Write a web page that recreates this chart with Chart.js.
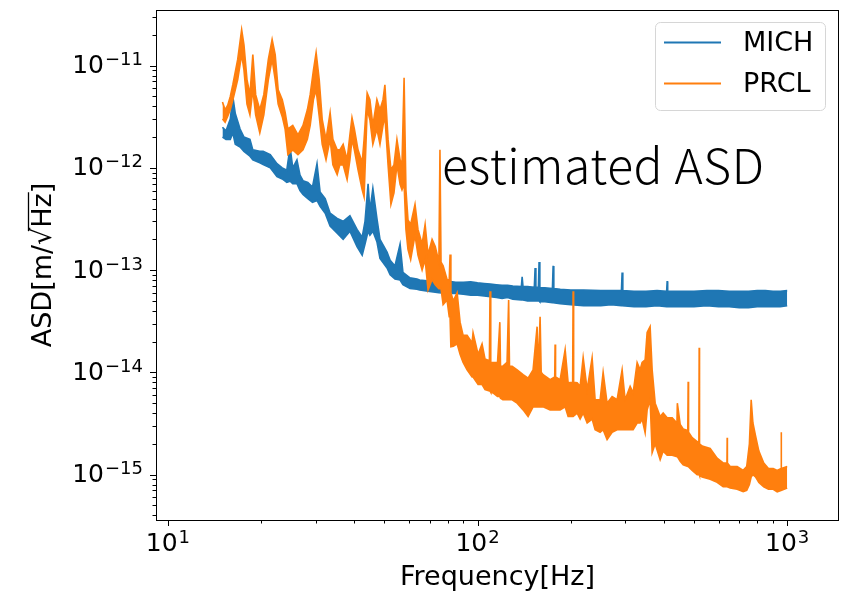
<!DOCTYPE html>
<html>
<head>
<meta charset="utf-8">
<script src="https://cdn.jsdelivr.net/npm/chart.js@4.4.1/dist/chart.umd.min.js"></script>
<style>
  html, body { margin: 0; padding: 0; background: #fff; }
  #wrap { width: 846px; height: 591px; }
</style>
</head>
<body>
<div id="wrap"><canvas id="asd" width="846" height="591"></canvas></div>
<script>
// axis decades (major ticks) and visible range
const xTicks = [10, 100, 1000];
const yTicks = [1e-15, 1e-14, 1e-13, 1e-12, 1e-11];
const xRange = [9.15, 1470];
const yRange = [3.6e-16, 3.5e-11];

// MICH: upper and lower edge of the noisy trace
const michFreq = [15.0, 15.4, 15.9, 16.2, 16.5, 17.1, 17.6, 18.4, 18.8, 19.8, 20.3, 21.4, 22.5, 23.4, 24.2, 24.8, 25.3, 26.1, 26.7, 27.3,
  28.3, 29.3, 30.3, 31.0, 32.2, 33.4, 35.2, 36.8, 38.7, 40.8, 42.4, 43.3, 44.3, 44.9, 45.9, 47.3, 48.4, 51.0, 52.2, 54.1,
  56.2, 57.4, 60.5, 63.7, 65, 70, 75, 80, 85, 90, 95, 100, 105, 110, 115, 120, 125, 130, 138.5, 139.3,
  140.2, 145, 152.5, 153.4, 154.3, 157.2, 158.0, 158.9, 165, 174.5, 175.4, 176.3, 185, 200, 220, 250, 270, 291.5, 293.0, 294.5,
  320, 350, 380, 408, 409.6, 411.2, 450, 500, 550, 600, 650, 700, 750, 800, 850, 900, 950, 1000];
const michHigh = [2.5e-12, 2.3e-12, 3.0e-12, 5.0e-12, 3.4e-12, 2.4e-12, 2.0e-12, 1.9e-12, 1.5e-12, 1.45e-12, 1.45e-12, 1.35e-12, 1.1e-12, 1.0e-12, 9.5e-13, 1.6e-12, 1.0e-12, 1.2e-12, 8.5e-13, 7.5e-13,
  7.2e-13, 6.5e-13, 1.1e-12, 5.8e-13, 5.0e-13, 3.6e-13, 3.2e-13, 3.0e-13, 3.4e-13, 2.5e-13, 2.1e-13, 3.0e-13, 7.0e-13, 3.8e-13, 6.3e-13, 3.2e-13, 2.0e-13, 1.5e-13, 1.25e-13, 1.1e-13,
  1.8e-13, 9.5e-14, 8.4e-14, 8.2e-14, 8.0e-14, 7.8e-14, 7.9e-14, 7.8e-14, 7.6e-14, 7.6e-14, 7.7e-14, 7.5e-14, 7.4e-14, 7.3e-14, 7.2e-14, 7.1e-14, 7.1e-14, 7.0e-14, 6.9e-14, 8.6e-14,
  6.9e-14, 6.9e-14, 6.8e-14, 1.05e-13, 6.8e-14, 6.8e-14, 1.2e-13, 6.7e-14, 6.7e-14, 6.6e-14, 1.1e-13, 6.6e-14, 6.5e-14, 6.4e-14, 6.4e-14, 6.3e-14, 6.3e-14, 6.3e-14, 9.5e-14, 6.3e-14,
  6.2e-14, 6.2e-14, 6.3e-14, 6.2e-14, 7.8e-14, 6.2e-14, 6.2e-14, 6.2e-14, 6.3e-14, 6.3e-14, 6.2e-14, 6.2e-14, 6.2e-14, 6.3e-14, 6.3e-14, 6.2e-14, 6.2e-14, 6.3e-14];
const michLow = [2.0e-12, 1.9e-12, 1.9e-12, 2.2e-12, 1.7e-12, 1.6e-12, 1.45e-12, 1.3e-12, 1.2e-12, 1.12e-12, 1.08e-12, 1.0e-12, 8.2e-13, 7.8e-13, 7.2e-13, 7.4e-13, 7.0e-13, 7.0e-13, 6.0e-13, 5.5e-13,
  5.0e-13, 4.6e-13, 4.8e-13, 4.2e-13, 3.6e-13, 2.7e-13, 2.3e-13, 2.0e-13, 2.4e-13, 1.7e-13, 1.4e-13, 1.8e-13, 2.4e-13, 2.2e-13, 2.4e-13, 1.9e-13, 1.3e-13, 1.05e-13, 9.0e-14, 8.2e-14,
  8.0e-14, 7.2e-14, 6.6e-14, 6.5e-14, 6.4e-14, 6.2e-14, 6.0e-14, 5.9e-14, 5.9e-14, 5.8e-14, 5.7e-14, 5.7e-14, 5.6e-14, 5.5e-14, 5.4e-14, 5.3e-14, 5.4e-14, 5.2e-14, 5.1e-14, 5.1e-14,
  5.1e-14, 5.0e-14, 5.0e-14, 5.0e-14, 5.0e-14, 5.0e-14, 5.0e-14, 4.9e-14, 4.9e-14, 4.8e-14, 4.8e-14, 4.8e-14, 4.7e-14, 4.6e-14, 4.5e-14, 4.5e-14, 4.6e-14, 4.5e-14, 4.5e-14, 4.5e-14,
  4.4e-14, 4.4e-14, 4.5e-14, 4.4e-14, 4.4e-14, 4.4e-14, 4.4e-14, 4.4e-14, 4.5e-14, 4.4e-14, 4.4e-14, 4.3e-14, 4.3e-14, 4.4e-14, 4.4e-14, 4.4e-14, 4.4e-14, 4.5e-14];

// PRCL: upper and lower edge of the noisy trace
const prclFreq = [15.0, 15.3, 15.6, 15.9, 16.2, 16.5, 16.8, 17.3, 17.6, 18.0, 18.4, 18.8, 19.2, 19.8, 20.4, 21.1, 21.7, 22.2, 22.7, 23.4,
  23.9, 24.4, 25.3, 26.3, 27.3, 28.2, 28.8, 29.5, 30.1, 30.8, 31.5, 32.4, 33.4, 34.1, 35.2, 35.9, 36.8, 37.9, 38.7, 39.3,
  40.0, 41.1, 42.4, 43.0, 44.0, 44.9, 45.9, 47.3, 48.4, 49.5, 50.2, 51.4, 52.5, 53.7, 54.9, 56.2, 57.0, 57.9, 58.7, 59.6,
  60.8, 62.8, 64.2, 66.2, 67.7, 69.2, 71.3, 73.0, 75.0, 75.6, 76.2, 77.4, 79.7, 81.0, 81.5, 82.0, 83.5, 85.9, 87.8, 89.8,
  92.5, 96.0, 96.7, 100.4, 103.4, 105.7, 109.2, 109.7, 110.3, 112.2, 116.0, 118.0, 118.6, 120.7, 124.5, 126.0, 126.8, 129.3, 134.2, 140.3,
  145.6, 151.1, 155.7, 157.0, 159.2, 160.5, 162.8, 171.5, 177.5, 178.0, 178.6, 184.8, 191.8, 196.1, 202.8, 203.5, 204.3, 209.7, 214.4, 219.3,
  225.9, 234.4, 239.7, 248.8, 254.4, 262.0, 272.0, 282.3, 293.0, 299.6, 311.0, 318.0, 327.6, 335.0, 340.0, 347.7, 352.9, 360.8, 366.3, 374.6,
  388.8, 397.6, 409.6, 425.2, 440.5, 441.8, 451.2, 461.4, 477.5, 478.8, 480.2, 493.3, 512.0, 518.5, 519.7, 521.0, 531.4, 563.9, 593.9, 621.1,
  639.0, 640.0, 641.0, 654.4, 689.4, 720.9, 740, 755, 765, 775, 790, 810, 840, 870, 901.3, 928.5, 955, 956.4, 958, 1000];
const prclHigh = [4.4e-12, 3.7e-12, 4.1e-12, 5.0e-12, 6.5e-12, 8.7e-12, 1.15e-11, 2.25e-11, 1.6e-11, 7.3e-12, 5.2e-12, 1.28e-11, 5.2e-12, 3.7e-12, 5.2e-12, 1.15e-11, 1.8e-11, 1.28e-11, 5.8e-12, 4.65e-12,
  3.5e-12, 2.4e-12, 2.6e-12, 2.1e-12, 2.6e-12, 3.7e-12, 5.2e-12, 9.0e-12, 1.34e-11, 7.3e-12, 2.96e-12, 1.9e-12, 3.47e-12, 1.9e-12, 1.5e-12, 1.5e-12, 1.7e-12, 1.2e-12, 2.1e-12, 3.1e-12,
  2.4e-12, 1.5e-12, 1.13e-12, 1.9e-12, 5.4e-12, 4.65e-12, 2.6e-12, 4.65e-12, 3.7e-12, 4.65e-12, 6.5e-12, 1.9e-12, 9.6e-13, 1.07e-12, 1.9e-12, 1.2e-12, 1.07e-12, 7.6e-12, 6.1e-13, 3.1e-13,
  2.8e-13, 4.4e-13, 2.5e-13, 1.8e-13, 2.8e-13, 1.42e-13, 2.0e-13, 1.7e-13, 1.2e-13, 1.5e-12, 1.2e-13, 1.1e-13, 8.1e-14, 8.0e-14, 1.42e-13, 6.0e-14, 5.0e-14, 6.0e-14, 3.1e-14, 2.3e-14,
  2.3e-14, 1.95e-14, 2.45e-14, 1.5e-14, 1.9e-14, 1.35e-14, 1.3e-14, 6.2e-14, 1.25e-14, 1.25e-14, 1.25e-14, 3.1e-14, 1.15e-14, 1.15e-14, 1.25e-14, 5.1e-14, 1.15e-14, 1.15e-14, 1.06e-14, 9.5e-15,
  8.8e-15, 1.06e-14, 2.8e-14, 1.0e-14, 3.5e-14, 1.0e-14, 9.5e-15, 8.5e-15, 9.0e-15, 1.87e-14, 9.0e-15, 8.5e-15, 1.67e-14, 7.9e-15, 8.0e-15, 6.2e-14, 8.0e-15, 7.9e-15, 7.3e-15, 1.4e-14,
  6.8e-15, 1.39e-14, 5.4e-15, 5.4e-15, 1.0e-14, 5.0e-15, 5.8e-15, 5.4e-15, 1.06e-14, 5.4e-15, 7.3e-15, 6.3e-15, 1.25e-14, 1.06e-14, 1.25e-14, 1.33e-14, 2.45e-14, 2.8e-14, 1.06e-14, 5.0e-15,
  3.7e-15, 4.0e-15, 3.6e-15, 3.6e-15, 3.2e-15, 5.0e-15, 3.1e-15, 2.8e-15, 2.7e-15, 8.1e-15, 2.6e-15, 2.3e-15, 2.1e-15, 2.1e-15, 1.74e-14, 2.0e-15, 1.9e-15, 1.8e-15, 1.45e-15, 1.3e-15,
  1.3e-15, 2.3e-15, 1.3e-15, 1.2e-15, 1.2e-15, 1.1e-15, 1.2e-15, 2.0e-15, 5.4e-15, 3.2e-15, 2.4e-15, 1.7e-15, 1.3e-15, 1.15e-15, 1.15e-15, 1.1e-15, 1.15e-15, 2.6e-15, 1.15e-15, 1.2e-15];
const prclLow = [3.0e-12, 2.8e-12, 3.2e-12, 3.7e-12, 4.6e-12, 5.8e-12, 7.3e-12, 1.28e-11, 9.1e-12, 4.2e-12, 3.3e-12, 5.8e-12, 3.3e-12, 2.2e-12, 3.3e-12, 7.3e-12, 1.15e-11, 7.3e-12, 4.2e-12, 3.17e-12,
  2.4e-12, 1.35e-12, 1.5e-12, 1.35e-12, 1.5e-12, 1.9e-12, 2.6e-12, 4.65e-12, 5.8e-12, 3.2e-12, 1.7e-12, 1.2e-12, 1.9e-12, 1.07e-12, 8.6e-13, 1.07e-12, 1.07e-12, 7.7e-13, 1.2e-12, 1.9e-12,
  1.5e-12, 9.6e-13, 6.1e-13, 5.2e-13, 3.7e-12, 2.96e-12, 1.7e-12, 2.4e-12, 1.7e-12, 2.6e-12, 3.2e-12, 1.07e-12, 4.4e-13, 5.7e-13, 1.07e-12, 6.9e-13, 6.1e-13, 7.0e-13, 2.5e-13, 1.6e-13,
  1.27e-13, 2.2e-13, 1.4e-13, 1.0e-13, 1.27e-13, 6.4e-14, 8.1e-14, 7.2e-14, 6.6e-14, 6.6e-14, 6.6e-14, 4.6e-14, 5.1e-14, 3.5e-14, 3.5e-14, 1.78e-14, 1.8e-14, 1.9e-14, 1.5e-14, 1.25e-14,
  1.06e-14, 9.0e-15, 9.0e-15, 7.6e-15, 7.6e-15, 6.8e-15, 6.6e-15, 6.6e-15, 6.4e-15, 6.3e-15, 5.8e-15, 5.8e-15, 5.6e-15, 5.4e-15, 5.4e-15, 5.4e-15, 5.4e-15, 5.4e-15, 5.0e-15, 4.3e-15,
  3.7e-15, 4.6e-15, 4.6e-15, 4.6e-15, 4.6e-15, 4.6e-15, 4.6e-15, 4.3e-15, 4.3e-15, 4.3e-15, 4.3e-15, 4.3e-15, 4.6e-15, 3.7e-15, 3.7e-15, 3.7e-15, 3.7e-15, 4.0e-15, 3.5e-15, 4.0e-15,
  3.2e-15, 3.5e-15, 2.75e-15, 2.6e-15, 2.75e-15, 2.2e-15, 2.6e-15, 2.75e-15, 2.75e-15, 2.75e-15, 2.75e-15, 2.75e-15, 3.2e-15, 3.2e-15, 3.5e-15, 2.57e-15, 4.3e-15, 5.4e-15, 1.64e-15, 2.0e-15,
  1.4e-15, 1.7e-15, 1.55e-15, 1.55e-15, 1.5e-15, 1.5e-15, 1.35e-15, 1.25e-15, 1.2e-15, 1.2e-15, 1.2e-15, 1.1e-15, 1.0e-15, 1.0e-15, 1.0e-15, 9.8e-16, 9.5e-16, 9.0e-16, 8.4e-16, 7.6e-16,
  7.6e-16, 7.6e-16, 7.6e-16, 7.4e-16, 7.2e-16, 6.8e-16, 7.0e-16, 8.0e-16, 9.5e-16, 1.0e-15, 9.5e-16, 8.4e-16, 7.6e-16, 7.2e-16, 7.2e-16, 6.8e-16, 7.0e-16, 7.0e-16, 7.0e-16, 7.4e-16];

const seriesNames = ['MICH', 'PRCL'];
const seriesColors = ['#1f77b4', '#ff7f0e'];
const noteText = 'estimated ASD';

function points(freq, vals) {
  return freq.map((f, i) => ({x: f, y: vals[i]}));
}

function decadeTicks(decades, scale) {
  const out = [];
  const list = [decades[0] / 10].concat(decades);
  list.forEach(d => {
    for (let m = 1; m < 10; m++) {
      const v = d * m;
      if (v >= scale.min && v <= scale.max) out.push({value: v, major: m === 1});
    }
  });
  scale.ticks = out;
}

function makeBand(name, color, freq, hi, lo, order) {
  return [
    {label: name, data: points(freq, hi), borderColor: color, backgroundColor: color,
     borderWidth: 1.6, pointRadius: 0, fill: false, order: order},
    {label: name + ' low', data: points(freq, lo), borderColor: color, backgroundColor: color,
     borderWidth: 1.6, pointRadius: 0, fill: '-1', order: order}
  ];
}

// "10" with a raised exponent, like matplotlib's log tick labels
function drawPower(ctx, v, x, base, align) {
  const exp = String(Math.round(Math.log10(v))).replace('-', '\u2212');
  ctx.font = '25px "DejaVu Sans"';
  const wb = ctx.measureText('10').width;
  ctx.font = '18px "DejaVu Sans"';
  const we = ctx.measureText(exp).width;
  const left = align === 'right' ? x - wb - we - 1 : x - (wb + we + 1) / 2;
  ctx.textAlign = 'left';
  ctx.textBaseline = 'alphabetic';
  ctx.fillStyle = '#000';
  ctx.font = '25px "DejaVu Sans"';
  ctx.fillText('10', left, base);
  ctx.font = '18px "DejaVu Sans"';
  ctx.fillText(exp, left + wb + 1, base - 8);
}

// frame, tick marks and labels, legend, sqrt overline and the text note
const decorations = {
  id: 'decorations',
  afterDraw(chart) {
    const {ctx, chartArea: a, scales: {x, y}} = chart;
    ctx.save();
    ctx.strokeStyle = '#000';
    ctx.lineWidth = 1;
    ctx.strokeRect(a.left + 0.5, a.top + 0.5, a.right - a.left - 1, a.bottom - a.top);

    ctx.beginPath();
    x.ticks.forEach(t => {
      const px = Math.round(x.getPixelForValue(t.value)) + 0.5;
      ctx.moveTo(px, a.bottom);
      ctx.lineTo(px, a.bottom + (t.major ? 6 : 3.5));
    });
    y.ticks.forEach(t => {
      const py = Math.round(y.getPixelForValue(t.value)) + 0.5;
      ctx.moveTo(a.left, py);
      ctx.lineTo(a.left - (t.major ? 6 : 3.5), py);
    });
    ctx.stroke();

    x.ticks.filter(t => t.major).forEach(t => {
      drawPower(ctx, t.value, x.getPixelForValue(t.value), a.bottom + 31, 'center');
    });
    y.ticks.filter(t => t.major).forEach(t => {
      drawPower(ctx, t.value, a.left - 13, y.getPixelForValue(t.value) + 7.5, 'right');
    });

    // overline of the square root in the y title
    const title = y.options.title;
    ctx.font = title.font.size + 'px "DejaVu Sans"';
    const full = ctx.measureText(title.text).width;
    const pre = ctx.measureText('ASD[m/').width;
    const root = ctx.measureText('\u221A').width;
    const hz = ctx.measureText('Hz').width;
    ctx.translate(44, (a.top + a.bottom) / 2);
    ctx.rotate(-Math.PI / 2);
    ctx.beginPath();
    ctx.lineWidth = 1.3;
    const x0 = -full / 2 + pre + root * 0.8;
    const x1 = -full / 2 + pre + root + hz + 1;
    ctx.moveTo(x0, -15.5);
    ctx.lineTo(x1, -15.5);
    ctx.stroke();
    ctx.setTransform(1, 0, 0, 1, 0, 0);

    // legend
    ctx.beginPath();
    ctx.roundRect(655.5, 22.5, 170, 88, 5);
    ctx.fillStyle = 'rgba(255,255,255,0.8)';
    ctx.fill();
    ctx.strokeStyle = '#d6d6d6';
    ctx.lineWidth = 1;
    ctx.stroke();
    ctx.font = '27px "DejaVu Sans"';
    ctx.textBaseline = 'middle';
    ctx.textAlign = 'left';
    seriesNames.forEach((n, i) => {
      const ly = 42.5 + i * 41;
      ctx.strokeStyle = seriesColors[i];
      ctx.lineWidth = 2;
      ctx.beginPath();
      ctx.moveTo(664, ly);
      ctx.lineTo(721, ly);
      ctx.stroke();
      ctx.fillStyle = '#000';
      ctx.fillText(n, 743, ly + 1.5);
    });

    ctx.font = '300 48px "Noto Sans CJK JP"';
    ctx.letterSpacing = '0.6px';
    ctx.textBaseline = 'alphabetic';
    ctx.fillText(noteText, 442, 184);
    ctx.restore();
  }
};

const ctx = document.getElementById('asd').getContext('2d');
new Chart(ctx, {
  type: 'line',
  data: {
    datasets: makeBand(seriesNames[0], seriesColors[0], michFreq, michHigh, michLow, 2)
      .concat(makeBand(seriesNames[1], seriesColors[1], prclFreq, prclHigh, prclLow, 1))
  },
  options: {
    responsive: false,
    animation: false,
    layout: {padding: {top: 10, right: 7, left: 0, bottom: 0}},
    elements: {line: {tension: 0}},
    plugins: {legend: {display: false}, tooltip: {enabled: false}},
    scales: {
      x: {
        type: 'logarithmic',
        min: xRange[0],
        max: xRange[1],
        afterBuildTicks: s => decadeTicks(xTicks, s),
        afterFit: s => { s.height = 71; s.paddingLeft = 0; s.paddingRight = 0; },
        grid: {display: false, drawTicks: false},
        border: {display: false},
        ticks: {display: false},
        title: {display: true, text: 'Frequency[Hz]', color: '#000', padding: 0,
          font: {family: 'DejaVu Sans', size: 27, lineHeight: 1.0}}
      },
      y: {
        type: 'logarithmic',
        min: yRange[0],
        max: yRange[1],
        afterBuildTicks: s => decadeTicks(yTicks, s),
        afterFit: s => { s.width = 156; s.paddingTop = 0; s.paddingBottom = 0; },
        grid: {display: false, drawTicks: false},
        border: {display: false},
        ticks: {display: false},
        title: {display: true, text: 'ASD[m/\u221AHz]', color: '#000', padding: {top: 28, bottom: 0},
          font: {family: 'DejaVu Sans', size: 27, lineHeight: 1.2}}
      }
    }
  },
  plugins: [decorations]
});
</script>
</body>
</html>
